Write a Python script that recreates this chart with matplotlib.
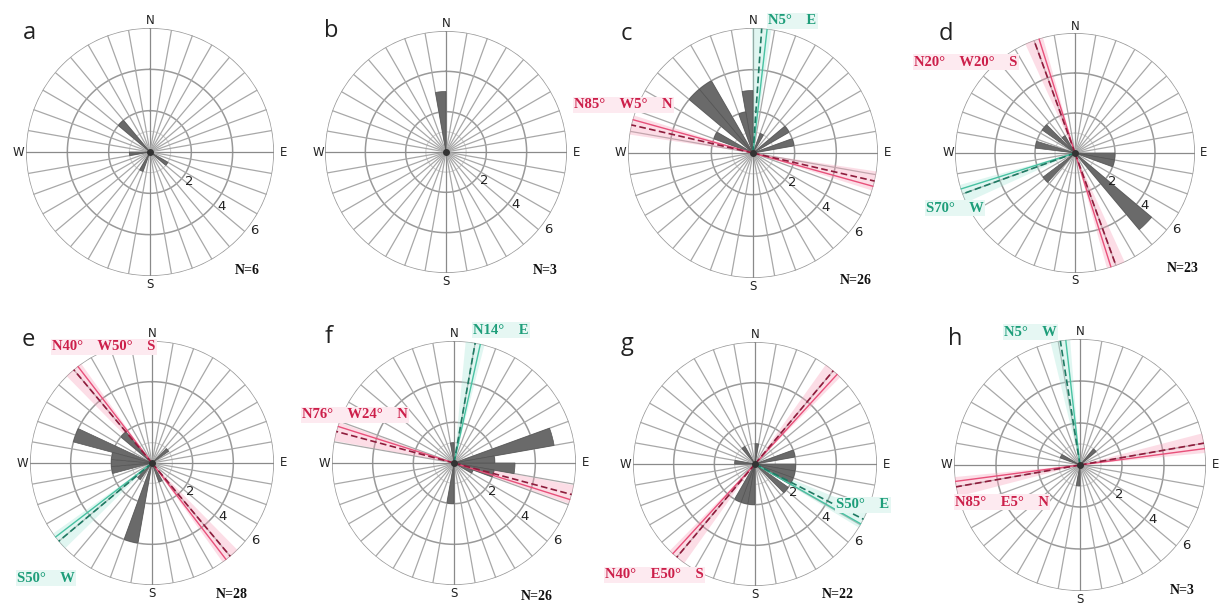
import numpy as np
import matplotlib
matplotlib.use("Agg")
import matplotlib.pyplot as plt

W, H = 1226, 608

# panel ids and layout (pixel centers / radius of the outer ring)
panel_ids = ["a", "b", "c", "d", "e", "f", "g", "h"]
n_labels = ["N=6", "N=3", "N=26", "N=23", "N=28", "N=26", "N=22", "N=3"]

# petals: center azimuth (deg, clockwise from N) and count
dirs_a = [315, 265, 125, 205]
cnts_a = [2, 1, 1, 1]
dirs_b = [355]
cnts_b = [3]
dirs_c = [315, 325, 355, 345, 295, 55, 75, 25]
cnts_c = [4, 4, 3, 2, 2, 2, 2, 1]
dirs_d = [135, 95, 105, 282, 310, 228, 325]
cnts_d = [5, 2, 2, 2, 2, 2, 1]
dirs_e = [290, 260, 270, 280, 195, 315, 50, 155, 220]
cnts_e = [4, 2, 2, 2, 4, 2, 1, 1, 1]
dirs_f = [75, 95, 85, 105, 355, 185, 115]
cnts_f = [5, 3, 2, 2, 1, 2, 1]
dirs_g = [95, 105, 115, 130, 75, 5, 325, 195, 205, 185, 275]
cnts_g = [2, 2, 2, 2, 2, 1, 1, 2, 2, 2, 1]
dirs_h = [45, 185, 295]
cnts_h = [1, 1, 1]

# fault traces (deg), red = through-going, green = one-sided
red_az = [None, None, 283, 340, 320, 285, 40, 80]
green_az = [None, None, 4, 250, 230, 10, 117, 351]
red_txt = [None, None, "N85°    W5°    N", "N20°    W20°    S", "N40°    W50°    S",
           "N76°    W24°    N", "N40°    E50°    S", "N85°    E5°    N"]
green_txt = [None, None, "N5°    E", "S70°    W", "S50°    W", "N14°    E", "S50°    E", "N5°    W"]

all_dirs = [dirs_a, dirs_b, dirs_c, dirs_d, dirs_e, dirs_f, dirs_g, dirs_h]
all_cnts = [cnts_a, cnts_b, cnts_c, cnts_d, cnts_e, cnts_f, cnts_g, cnts_h]

centers = [(150, 152), (446, 152), (753, 153), (1075, 153),
           (152, 463), (454, 463), (755, 464), (1080, 465)]
radii = [124, 121, 125, 120, 122, 122, 122, 126]
letter_pos = [(29, 33), (331, 31), (626, 34), (946, 34),
              (28, 340), (329, 337), (627, 344), (955, 339)]
nlab_pos = [(247, 270), (545, 271), (856, 281), (1183, 269),
            (232, 594), (537, 597), (838, 594), (1182, 590)]
red_pos = [None, None, (574, 105), (914, 62), (52, 347), (302, 415), (605, 575), (955, 502)]
green_pos = [None, None, (768, 21), (926, 208), (17, 578), (473, 330), (836, 505), (1004, 332)]

RED_T, GREEN_T = "#cc1f4a", "#1e9e7a"

fig = plt.figure(figsize=(W / 100, H / 100), dpi=100)


def px(x, y):
    return x / W, 1 - y / H


def fault(ax, az, color_l, color_d, band, both):
    t = np.deg2rad(az)
    ends = [t, t + np.pi] if both else [t]
    for e in ends:
        ax.bar(e, 6, width=np.deg2rad(9), bottom=0, color=band, alpha=0.35,
               edgecolor="none", zorder=2)
        ax.plot([e + np.deg2rad(2.5)] * 2, [0, 6], color=color_l, lw=1.0, zorder=5)
        ax.plot([e] * 2, [0, 6], color=color_d, lw=1.2, ls=(0, (4, 2)), zorder=5)


for i, pid in enumerate(panel_ids):
    cx, cy = centers[i]
    R = radii[i]
    x0, y0 = px(cx - R, cy + R)
    ax = fig.add_axes([x0, y0, 2 * R / W, 2 * R / H], projection="polar")
    ax.set_theta_zero_location("N")
    ax.set_theta_direction(-1)
    ax.set_ylim(0, 6)
    ax.axis("off")

    th = np.linspace(0, 2 * np.pi, 361)
    ax.plot(th, np.full_like(th, 1), color="#d0d0d0", lw=0.8, zorder=1)
    for r in [2, 4, 6]:
        ax.plot(th, np.full_like(th, r), color="#999999", lw=1.1, zorder=1)
    for a in range(0, 360, 10):
        c = "#8a8a8a" if a % 90 == 0 else "#a8a8a8"
        ax.plot([np.deg2rad(a)] * 2, [0, 6], color=c, lw=0.9, zorder=1)

    ax.bar(np.deg2rad(all_dirs[i]), all_cnts[i], width=np.deg2rad(10),
           color="#6a6a6a", edgecolor="#555555", lw=0.5, zorder=3)

    if red_az[i] is not None:
        fault(ax, red_az[i], "#e8507a", "#8e1c3c", "#f7a0b8", True)
        fault(ax, green_az[i], "#48c2a2", "#1f7a63", "#a8e6d8", False)

    ax.plot(0, 0, "o", ms=4, color="#333333", zorder=6)

    for r in [2, 4, 6]:
        ax.text(np.deg2rad(127), r + 0.35, str(r), fontsize=9.5, ha="center",
                va="center", color="#222222", family="DejaVu Sans", clip_on=False)
    for lab, a, rr in [("N", 0, 6.35), ("E", 90, 6.45), ("S", 180, 6.4), ("W", 270, 6.35)]:
        ax.text(np.deg2rad(a), rr, lab, fontsize=8.5, ha="center", va="center",
                color="#222222", family="DejaVu Sans", clip_on=False)

    lx, ly = px(*letter_pos[i])
    fig.text(lx, ly, pid, fontsize=17, ha="center", va="center", family="Open Sans", color="#222222")
    nx, ny = px(*nlab_pos[i])
    fig.text(nx, ny, n_labels[i], fontsize=10, ha="center", va="center",
             family="Liberation Serif", weight="bold", color="#111111")

    if red_txt[i] is not None:
        rx, ry = px(*red_pos[i])
        fig.text(rx, ry, red_txt[i], fontsize=10.5, ha="left", va="center",
                 family="Liberation Serif", weight="bold", color=RED_T,
                 bbox=dict(facecolor="#fdeaf0", edgecolor="none", pad=1))
        gx, gy = px(*green_pos[i])
        fig.text(gx, gy, green_txt[i], fontsize=10.5, ha="left", va="center",
                 family="Liberation Serif", weight="bold", color=GREEN_T,
                 bbox=dict(facecolor="#e6f7f3", edgecolor="none", pad=1))

fig.savefig("out.png", dpi=100)
